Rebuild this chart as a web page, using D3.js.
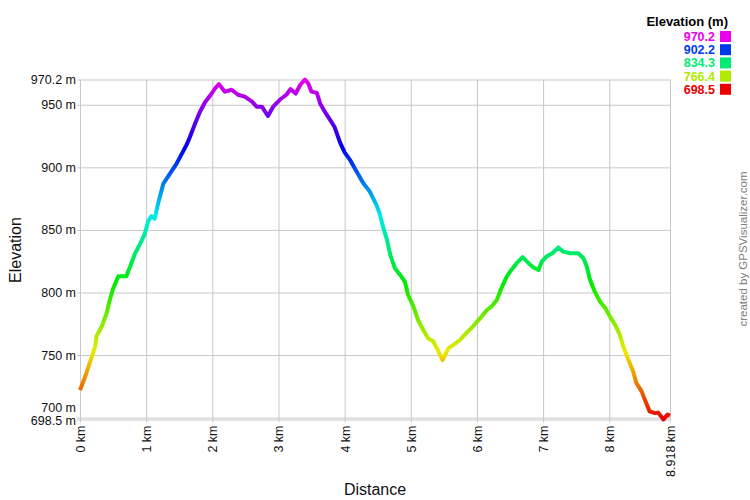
<!DOCTYPE html>
<html>
<head>
<meta charset="utf-8">
<script src="https://cdn.jsdelivr.net/npm/d3@7"></script>
<style>
  html, body { margin: 0; padding: 0; background: #fff; }
  svg { display: block; font-family: "Liberation Sans", Arial, sans-serif; }
</style>
</head>
<body>
<svg id="chart" width="750" height="500"></svg>
<script>
// ---- data ----
const distanceKm = [0.00,0.08,0.13,0.18,0.23,0.25,0.33,0.40,0.45,0.50,0.58,0.70,0.76,0.83,0.91,0.98,1.03,1.08,1.13,1.18,
  1.26,1.36,1.46,1.51,1.61,1.66,1.74,1.81,1.89,1.99,2.04,2.10,2.19,2.29,2.39,2.49,2.60,2.67,2.75,2.84,
  2.92,3.02,3.12,3.18,3.26,3.33,3.40,3.45,3.50,3.58,3.63,3.70,3.78,3.85,3.93,4.00,4.08,4.18,4.28,4.38,
  4.48,4.53,4.58,4.64,4.69,4.76,4.84,4.91,4.96,5.04,5.11,5.19,5.26,5.34,5.42,5.48,5.57,5.64,5.74,5.84,
  5.94,6.05,6.15,6.22,6.30,6.37,6.45,6.52,6.60,6.69,6.78,6.85,6.93,6.98,7.05,7.14,7.23,7.30,7.41,7.53,
  7.61,7.66,7.71,7.78,7.86,7.94,8.01,8.09,8.16,8.21,8.29,8.36,8.41,8.49,8.54,8.61,8.69,8.74,8.82,8.88,8.918];
const elevationM = [722,733,741,749,757,765,773,783,794,803,813,813,821,831,839,847,857,861,859,871,
  887,895,903,908,918,924,935,944,952,959,963,966.5,960.5,962,958,956.5,952.5,948.5,948.5,941,
  948.5,954,958,962.5,959,966,970.2,967,960.5,959.5,951,944.5,938,932,920,912,906,896.6,887.5,880.6,
  870,863,852.6,842,830,819.4,814,808.7,798,788.7,778,770,763.5,760.8,752.8,746,755.5,758,762,767.5,
  773,779.5,786,788.7,794,803.4,812.7,818,823.4,828.2,823.4,820.2,818,824.7,828.7,831.4,836,832.7,831.4,831.4,
  827.4,820.7,810,800.7,792.7,787.5,780.7,774,766,757,746,737,727.5,721,714,705,703.6,704,698.5,702.5,701.5];
const yTickValues = [698.5, 700, 750, 800, 850, 900, 950, 970.2];
const xTickValues = [0, 1, 2, 3, 4, 5, 6, 7, 8, 8.918];
const legendValues = [970.2, 902.2, 834.3, 766.4, 698.5];
const minElev = 698.5, maxElev = 970.2, totalKm = 8.918;

// ---- layout ----
const svg = d3.select("#chart");
const pLeft = 80, pRight = 670, pTop = 79.5, pBottom = 419.5;
const x = d3.scaleLinear().domain([0, totalKm]).range([pLeft, pRight]);
const y = d3.scaleLinear().domain([minElev, maxElev]).range([pBottom, pTop]);

// colour: rainbow by elevation (red -> magenta)
const colorOf = v => d3.hsl(300 * (v - minElev) / (maxElev - minElev), 1, 0.46).formatHex();

// ---- grid ----
const gridX = svg.append("g").attr("transform", `translate(0,${pTop})`)
  .call(d3.axisBottom(x).tickValues(xTickValues).tickSize(pBottom - pTop + 3).tickFormat(""));
gridX.select(".domain").remove();
gridX.selectAll("line").attr("stroke", "#c8c8c8");

const gridY = svg.append("g").attr("transform", `translate(${pRight},0)`)
  .call(d3.axisLeft(y).tickValues(yTickValues).tickSize(pRight - pLeft + 3).tickFormat(""));
gridY.select(".domain").remove();
gridY.selectAll("line").attr("stroke", "#c8c8c8");

// ---- axes labels ----
const yAxis = svg.append("g").attr("transform", `translate(${pLeft},0)`)
  .call(d3.axisLeft(y).tickValues(yTickValues).tickSize(0).tickPadding(4)
    .tickFormat(d => d + " m"));
yAxis.select(".domain").remove();
yAxis.selectAll("text").attr("font-size", "12.5px").attr("fill", "#111")
  .attr("font-family", "'Liberation Sans', Arial, sans-serif");
yAxis.selectAll(".tick").filter(d => d === 700).select("text").attr("dy", "-0.45em");
yAxis.selectAll(".tick").filter(d => d === 698.5).select("text").attr("dy", "0.4em");

const xAxis = svg.append("g").attr("transform", `translate(0,${pBottom})`)
  .call(d3.axisBottom(x).tickValues(xTickValues).tickSize(0)
    .tickFormat(d => d + " km"));
xAxis.select(".domain").remove();
xAxis.selectAll("text")
  .attr("font-size", "12.5px").attr("fill", "#111")
  .attr("font-family", "'Liberation Sans', Arial, sans-serif")
  .attr("text-anchor", "end")
  .attr("x", -6).attr("y", 0).attr("dy", "0.35em")
  .attr("transform", "rotate(-90)");

// ---- gradient ----
const defs = svg.append("defs");
const grad = defs.append("linearGradient").attr("id", "elevGrad")
  .attr("gradientUnits", "userSpaceOnUse")
  .attr("x1", 0).attr("x2", 0).attr("y1", y(minElev)).attr("y2", y(maxElev));
d3.range(0, 1.0001, 0.05).forEach(t => {
  grad.append("stop").attr("offset", t)
    .attr("stop-color", colorOf(minElev + t * (maxElev - minElev)));
});

// ---- profile line ----
const pts = distanceKm.map((d, i) => [d, elevationM[i]]);
svg.append("path")
  .datum(pts)
  .attr("fill", "none")
  .attr("stroke", "url(#elevGrad)")
  .attr("stroke-width", 4)
  .attr("stroke-linejoin", "round")
  .attr("stroke-linecap", "butt")
  .attr("d", d3.line().x(d => x(d[0])).y(d => y(d[1])));

// ---- titles ----
svg.append("text").attr("x", 375).attr("y", 495)
  .attr("text-anchor", "middle").attr("font-size", "16px").attr("fill", "#111")
  .text("Distance");
svg.append("text").attr("transform", "translate(21,250) rotate(-90)")
  .attr("text-anchor", "middle").attr("font-size", "16px").attr("fill", "#111")
  .text("Elevation");
svg.append("text").attr("transform", "translate(747,249) rotate(-90)")
  .attr("text-anchor", "middle").attr("font-size", "11.5px").attr("fill", "#808080")
  .text("created by GPSVisualizer.com");

// ---- legend ----
svg.append("text").attr("x", 728).attr("y", 26)
  .attr("text-anchor", "end").attr("font-size", "13px").attr("font-weight", "bold")
  .attr("fill", "#000").text("Elevation (m)");
const leg = svg.append("g").selectAll("g").data(legendValues).join("g")
  .attr("transform", (d, i) => `translate(0,${36.5 + i * 13.2})`);
leg.append("rect").attr("x", 720).attr("y", -5.5).attr("width", 11).attr("height", 11)
  .attr("fill", d => colorOf(d));
leg.append("text").attr("x", 715).attr("y", 0).attr("dy", "0.36em")
  .attr("text-anchor", "end").attr("font-size", "12.5px").attr("font-weight", "bold")
  .attr("fill", d => colorOf(d)).text(d => d.toFixed(1));
</script>
</body>
</html>
